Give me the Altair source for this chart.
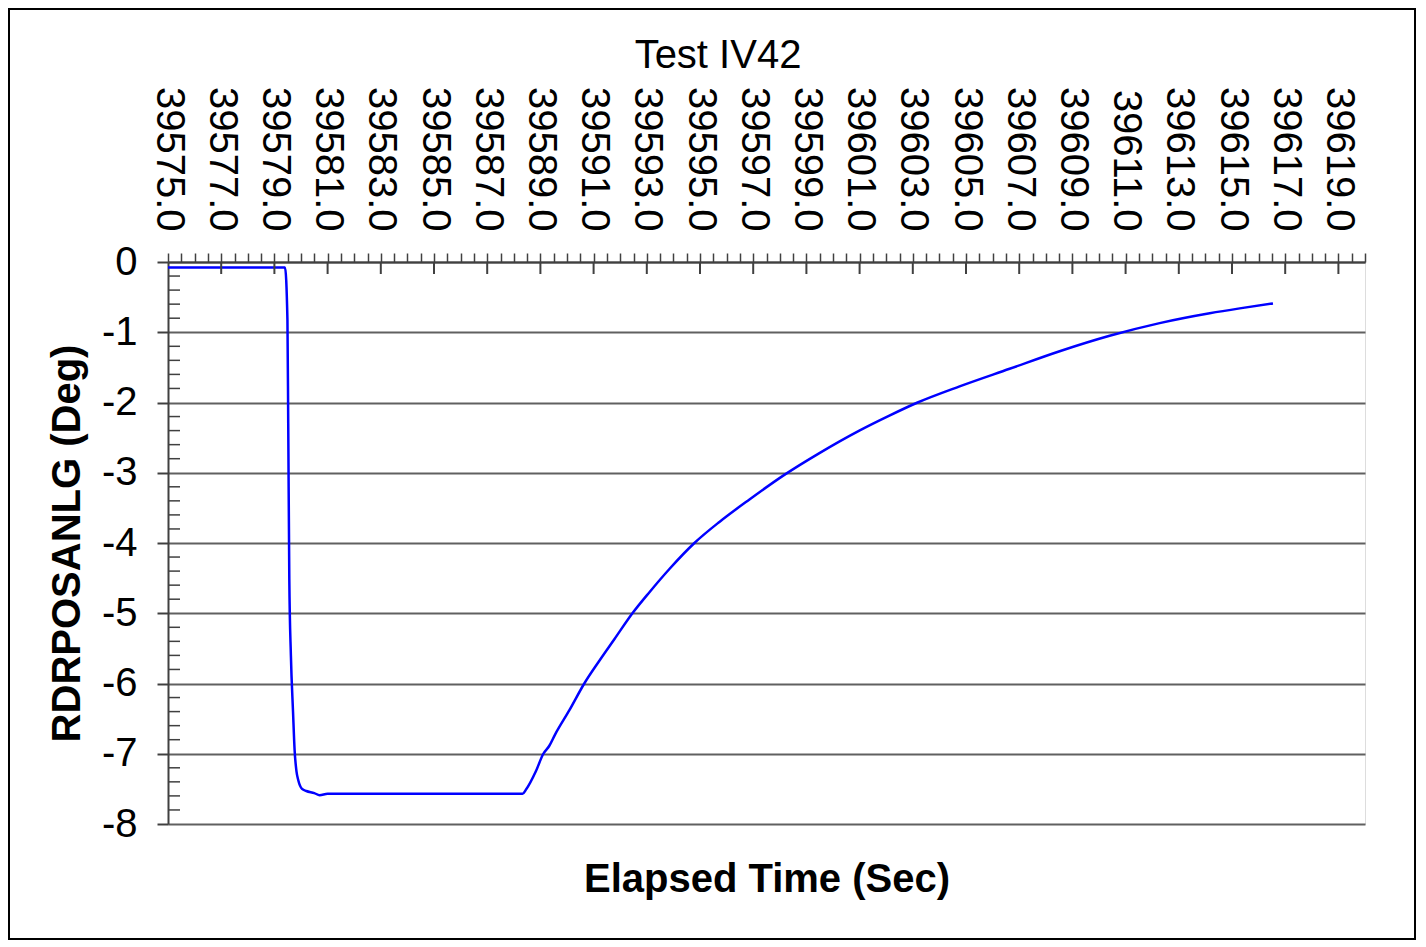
import altair as alt
import pandas as pd

FONT = "Liberation Sans"

# Series
elapsed_time = [
    39575.00, 39577.00, 39579.40, 39579.49, 39579.52, 39579.56, 39579.62,
    39579.70, 39579.76, 39579.83, 39579.90, 39580.04, 39580.20, 39580.50,
    39580.70, 39581.00, 39584.00, 39588.28, 39588.33, 39588.46, 39588.83,
    39589.11, 39589.33, 39589.56, 39590.09, 39590.65, 39591.21, 39591.78,
    39592.46, 39593.10, 39593.85, 39594.79, 39595.73, 39596.86, 39598.17,
    39599.49, 39600.99, 39602.10, 39603.18, 39604.76, 39606.64, 39608.52,
    39610.40, 39612.28, 39614.16, 39615.29, 39616.54,
]
rdrposanlg = [
    -0.08, -0.08, -0.08, -0.82, -2.30, -4.50, -5.60,
    -6.40, -6.95, -7.25, -7.38, -7.50, -7.53, -7.56,
    -7.59, -7.57, -7.57, -7.57, -7.57, -7.51, -7.25,
    -7.00, -6.89, -6.72, -6.38, -6.00, -5.68, -5.37,
    -5.00, -4.70, -4.37, -4.00, -3.70, -3.38, -3.03,
    -2.72, -2.40, -2.19, -2.00, -1.77, -1.52, -1.27,
    -1.05, -0.87, -0.73, -0.66, -0.59,
]

# Axis tick values / labels
x_major_labels = [39575 + 2 * i for i in range(23)]          # 39575.0 ... 39619.0
x_all_ticks = [39575 + 0.5 * i for i in range(91)]           # every 0.5 s
y_major = [-8, -7, -6, -5, -4, -3, -2, -1, 0]
y_minor = [round(-8 + 0.2 * i, 1) for i in range(41) if i % 5 != 0]

df = pd.DataFrame({"t": elapsed_time, "v": rdrposanlg})

xscale = alt.Scale(domain=[39575, 39620], nice=False, zero=False)
yscale = alt.Scale(domain=[-8, 0], nice=False, zero=False)

DARK = "#404040"

y_axis = alt.Axis(
    values=y_major,
    labelExpr="'' + datum.value",
    labelFont=FONT, labelFontSize=40, labelColor="black", labelPadding=20,
    tickSize=11, tickColor=DARK, tickWidth=2,
    domainColor=DARK, domainWidth=2,
    grid=True, gridColor="#606060", gridWidth=2,
    title="RDRPOSANLG (Deg)", titleFont=FONT, titleFontSize=40,
    titleFontWeight="bold", titleColor="black", titlePadding=14,
)

top_axis = alt.Axis(
    orient="top", values=x_all_ticks,
    labelExpr="datum.value % 2 == 1 ? format(datum.value, '.1f') : ''",
    labelAngle=90, labelAlign="right", labelBaseline="middle",
    labelPadding=22, labelFont=FONT, labelFontSize=40, labelColor="black",
    labelOverlap=False, labelFlush=False, labelBound=False,
    tickSize=9, tickColor=DARK, tickWidth=1.5,
    domainColor=DARK, domainWidth=2, grid=False, title=None,
)

bottom_axis = alt.Axis(
    orient="bottom", labels=False, ticks=False, domain=False, grid=False,
    title="Elapsed Time (Sec)", titleFont=FONT, titleFontSize=40,
    titleFontWeight="bold", titleColor="black", titlePadding=35,
)

line = alt.Chart(df).mark_line(
    color="#0000FF", strokeWidth=2.5, clip=True, interpolate="monotone"
).encode(
    x=alt.X("t:Q", scale=xscale, axis=top_axis),
    y=alt.Y("v:Q", scale=yscale, axis=y_axis),
)

x_inside = alt.Chart(pd.DataFrame({"t": x_major_labels[1:]})).mark_rule(
    color=DARK, strokeWidth=2
).encode(
    x=alt.X("t:Q", scale=xscale, axis=bottom_axis),
    y=alt.value(0), y2=alt.value(12),
)

y_inside = alt.Chart(pd.DataFrame({"v": y_minor})).mark_rule(
    color=DARK, strokeWidth=1.5
).encode(
    y=alt.Y("v:Q", scale=yscale, axis=y_axis),
    x=alt.value(0), x2=alt.value(12),
)

frame = alt.Chart(pd.DataFrame({"a": [0]})).mark_rect(
    fill="white", fillOpacity=0, stroke="black", strokeWidth=2
).encode(
    x=alt.value(-159), x2=alt.value(1247),
    y=alt.value(-253), y2=alt.value(677),
)

title = alt.Chart(pd.DataFrame({"label": ["Test IV42"]})).mark_text(
    font=FONT, fontSize=40, color="black", align="center", baseline="alphabetic"
).encode(
    text="label:N", x=alt.value(550), y=alt.value(-194),
)

chart = alt.layer(frame, y_inside, line, x_inside, title).resolve_axis(
    x="independent"
).properties(
    width=1197, height=562,
    autosize="none",
    padding={"left": 160, "top": 254, "right": 51, "bottom": 117},
).configure_view(
    fill="#C0C0C0", stroke="#808080", strokeWidth=3
).configure(background="white")

chart.save("out.html", embed_options={"renderer": "svg", "actions": False})
